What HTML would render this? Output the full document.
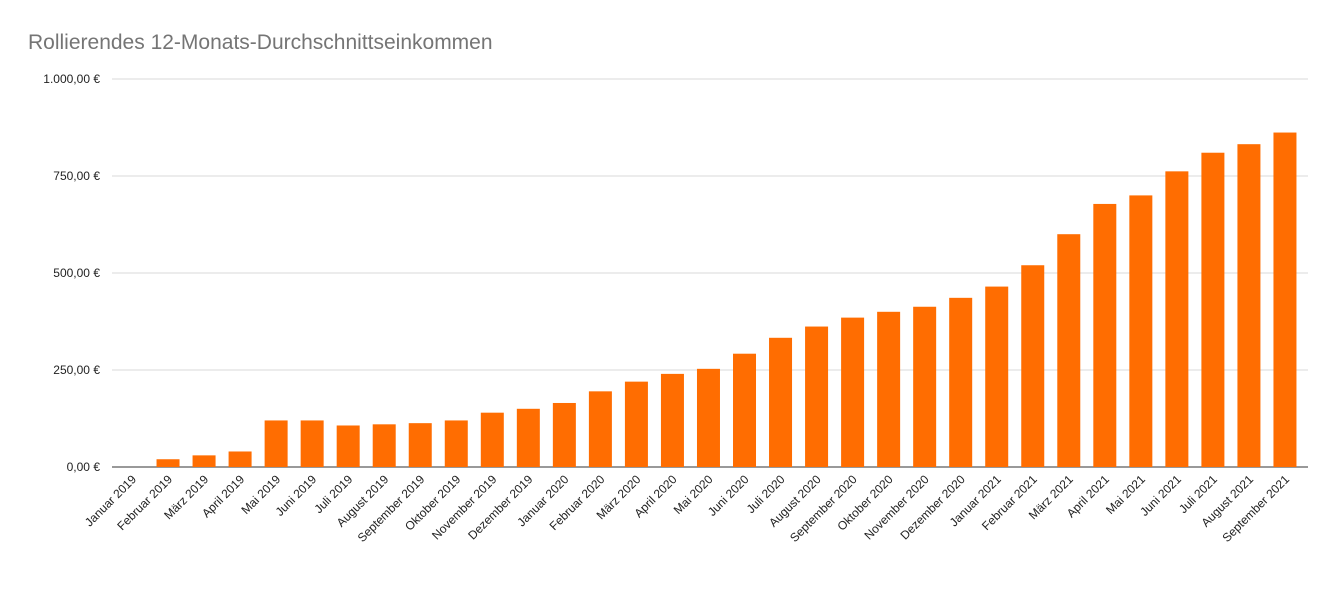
<!DOCTYPE html>
<html><head><meta charset="utf-8"><style>
body{margin:0;background:#fff;}
svg{display:block;font-family:"Liberation Sans",Arial,sans-serif;}
</style></head><body>
<svg id="chart" width="1336" height="589" viewBox="0 0 1336 589">
<text x="28" y="49" font-size="21" fill="#757575">Rollierendes 12-Monats-Durchschnittseinkommen</text>
<g id="grid"></g><g id="bars"></g><g id="xl"></g>
</svg>
<script>
const categories=["Januar 2019","Februar 2019","März 2019","April 2019","Mai 2019","Juni 2019","Juli 2019","August 2019","September 2019","Oktober 2019","November 2019","Dezember 2019","Januar 2020","Februar 2020","März 2020","April 2020","Mai 2020","Juni 2020","Juli 2020","August 2020","September 2020","Oktober 2020","November 2020","Dezember 2020","Januar 2021","Februar 2021","März 2021","April 2021","Mai 2021","Juni 2021","Juli 2021","August 2021","September 2021"];
const values=[0,20,30,40,120,120,107,110,113,120,140,150,165,195,220,240,253,292,333,362,385,400,413,436,465,520,600,678,700,762,810,832,862];
const ticks=[0,250,500,750,1000];
const tickLabels=["0,00 €","250,00 €","500,00 €","750,00 €","1.000,00 €"];
const NS="http://www.w3.org/2000/svg";
const y0=467,yTop=79,vMax=1000,x0=132,step=36.03,bw=23;
const y=v=>y0-(v/vMax)*(y0-yTop);
const x=i=>x0+i*step;
function mk(t,a,p){const e=document.createElementNS(NS,t);for(const k in a)e.setAttribute(k,a[k]);p.appendChild(e);return e;}
const g=document.getElementById('grid');
ticks.forEach((t,i)=>{
 const l=mk('line',{x1:112,x2:1308,y1:y(t),y2:y(t),stroke:t===0?'#333':'#d9d9d9','stroke-width':1},g);
 
 
 const tx=mk('text',{x:100,y:y(t)+4,'text-anchor':'end','font-size':12,fill:'#222'},g);
 tx.textContent=tickLabels[i];
 
 
});
const b=document.getElementById('bars'),xl=document.getElementById('xl');
values.forEach((v,i)=>{
 const r=mk('rect',{x:x(i)-bw/2,y:y(v),width:bw,height:y0-y(v),fill:'#ff6d01'},b);
 
 
 const cx=x(i)+5,cy=480;
 const t=mk('text',{x:cx,y:cy,'text-anchor':'end','font-size':12,fill:'#222',transform:`rotate(-45 ${cx} ${cy})`},xl);
 t.textContent=categories[i];
 
 
});
</script>
</body></html>
